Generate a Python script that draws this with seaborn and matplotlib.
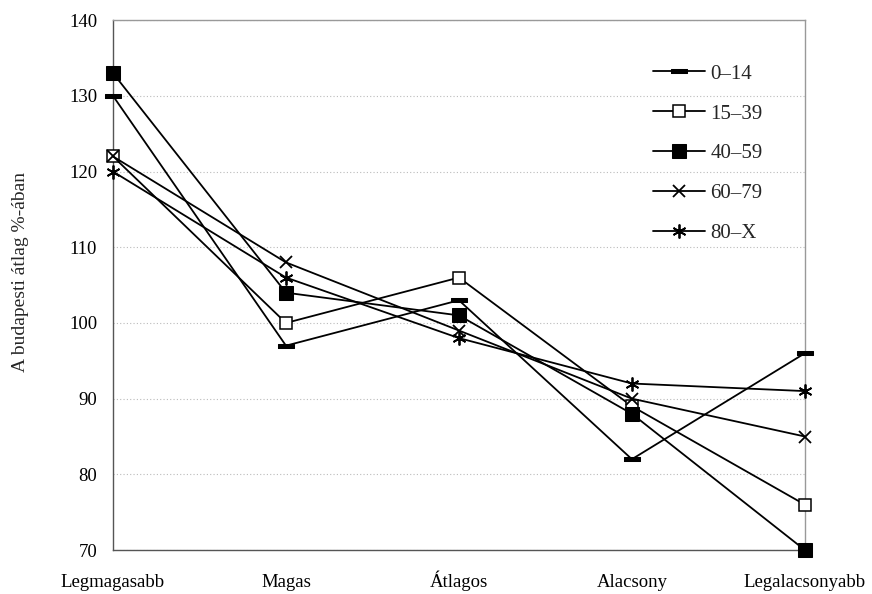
import numpy as np
import pandas as pd
import matplotlib.pyplot as plt
import seaborn as sns

# Data
categories = ["Legmagasabb", "Magas", "Átlagos", "Alacsony", "Legalacsonyabb"]
groups = ["0–14", "15–39", "40–59", "60–79", "80–X"]
v_0_14 = [130, 97, 103, 82, 96]
v_15_39 = [122, 100, 106, 89, 76]
v_40_59 = [133, 104, 101, 88, 70]
v_60_79 = [122, 108, 99, 90, 85]
v_80_x = [120, 106, 98, 92, 91]
values = [v_0_14, v_15_39, v_40_59, v_60_79, v_80_x]

rows = []
for g, vals in zip(groups, values):
    for c, v in zip(categories, vals):
        rows.append({"kategoria": c, "csoport": g, "ertek": v})
df = pd.DataFrame(rows)

sns.set_style("white")
plt.rcParams["font.family"] = ["Liberation Serif", "DejaVu Serif"]

bar_marker = [(-1, -0.28), (1, -0.28), (1, 0.28), (-1, 0.28), (-1, -0.28)]
styles = {
    "0–14": dict(marker=bar_marker, markersize=11, markerfacecolor="black"),
    "15–39": dict(marker="s", markersize=8.5, markerfacecolor="white", markeredgewidth=1.1),
    "40–59": dict(marker="s", markersize=9.5, markerfacecolor="black"),
    "60–79": dict(marker="x", markersize=9, markeredgewidth=1.3),
    "80–X": dict(marker=(6, 2, 0), markersize=10, markeredgewidth=1.3),
}

fig, ax = plt.subplots(figsize=(8.72, 5.94), dpi=100)
fig.subplots_adjust(left=0.1296, right=0.923, top=0.966, bottom=0.074)

for g in groups:
    sub = df[df["csoport"] == g]
    sns.lineplot(data=sub, x="kategoria", y="ertek", sort=False, ax=ax,
                 color="black", linewidth=1.3, markeredgecolor="black",
                 label=g, clip_on=False, zorder=3, **styles[g])

ax.set_ylim(70, 140)
ax.set_yticks(np.arange(70, 141, 10))
ax.set_xlim(0, 4)
ax.yaxis.grid(True, color="#bbbbbb", linestyle=(0, (1, 2)), linewidth=0.8)
ax.set_axisbelow(True)
for side in ["top", "right"]:
    ax.spines[side].set_color("#999999")
    ax.spines[side].set_linewidth(1.0)
for side in ["left", "bottom"]:
    ax.spines[side].set_color("#555555")
    ax.spines[side].set_linewidth(1.0)
ax.tick_params(axis="both", labelsize=13.5, colors="#555555", labelcolor="black",
               length=3.5, width=0.8, direction="out")
ax.tick_params(axis="y", pad=8)
ax.tick_params(axis="x", pad=23)
for lbl in ax.get_xticklabels():
    lbl.set_verticalalignment("baseline")
ax.set_xlabel("")
ax.set_ylabel("A budapesti átlag %-ában", fontsize=14)
ax.yaxis.set_label_coords(-0.121, 0.525)

ax.legend(loc="upper left", bbox_to_anchor=(0.749, 0.892), bbox_transform=fig.transFigure,
          frameon=False, fontsize=15, handlelength=2.5, labelspacing=0.97,
          handletextpad=0.25, borderpad=0, borderaxespad=0)

plt.savefig("out.png", dpi=100)
plt.close()
